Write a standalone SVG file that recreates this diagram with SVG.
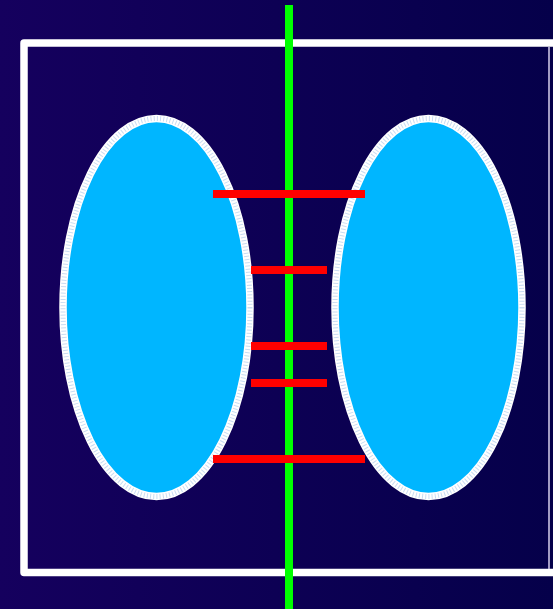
<svg xmlns="http://www.w3.org/2000/svg" width="553" height="609" viewBox="0 0 553 609">
  <defs>
    <linearGradient id="bg" x1="0" y1="0" x2="1" y2="0">
      <stop offset="0" stop-color="#15005e"/>
      <stop offset="1" stop-color="#05004a"/>
    </linearGradient>
  </defs>
  <style>
    .lobe { fill: #00b6ff; stroke: #ffffff; stroke-width: 7.5; }
    .tick { fill: none; stroke: #c9dcf2; stroke-width: 5; stroke-dasharray: 1 2.2; }
    .bar { stroke: #ff0000; stroke-width: 8; }
    .axis { stroke: #00ff00; stroke-width: 8; }
    .frame { fill: none; stroke: #ffffff; stroke-width: 7.5; stroke-linejoin: round; }
  </style>
  <rect x="0" y="0" width="553" height="609" fill="url(#bg)"/>
  <g id="frame">
    <path class="frame" d="M556,43 H24 V572.5 H556"/>
    <line x1="549" y1="47" x2="549" y2="569" stroke="#d8d0ee" stroke-width="1.5"/>
  </g>
  <g id="left-lobe">
    <ellipse class="lobe" cx="156.5" cy="307.5" rx="93.5" ry="189"/>
    <ellipse class="tick" cx="156.5" cy="307.5" rx="93.5" ry="189"/>
  </g>
  <g id="right-lobe">
    <ellipse class="lobe" cx="428.5" cy="307.5" rx="93.5" ry="189"/>
    <ellipse class="tick" cx="428.5" cy="307.5" rx="93.5" ry="189"/>
  </g>
  <g id="connectors">
    <line class="axis" x1="289" y1="5" x2="289" y2="609"/>
    <line class="bar" x1="213" y1="194" x2="365" y2="194"/>
    <line class="bar" x1="251" y1="270" x2="327" y2="270"/>
    <line class="bar" x1="251" y1="346" x2="327" y2="346"/>
    <line class="bar" x1="251" y1="383" x2="327" y2="383"/>
    <line class="bar" x1="213" y1="459" x2="365" y2="459"/>
  </g>
</svg>
